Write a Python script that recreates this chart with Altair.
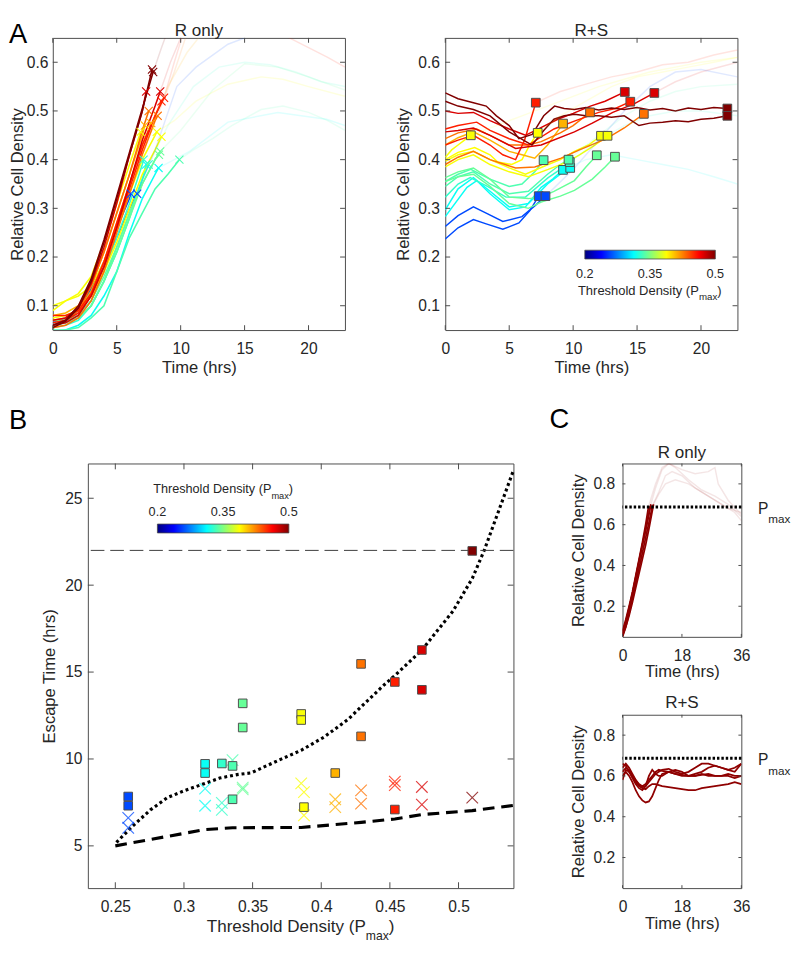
import altair as alt
import pandas as pd

FONT = "Liberation Sans"
TXT = "#262626"
BOX = "#4a4a4a"
CRED = "#8f0000"

# ---------------- colour map (jet, 0.2 .. 0.5) ----------------
JET_DOM = [0.2, 0.2375, 0.3125, 0.3875, 0.4625, 0.5]
JET_COL = ["#000080", "#0000ff", "#00ffff", "#ffff00", "#ff0000", "#800000"]
JET_OFF = [0.0, 0.125, 0.375, 0.625, 0.875, 1.0]
CB_TICKS = [0.2, 0.35, 0.5]
CB_LABELS = ["0.2", "0.35", "0.5"]

# ---------------- Panel A, R only ----------------
RO_PMAX = [0.2594, 0.2594, 0.3154, 0.3154, 0.3276, 0.3276, 0.3354, 0.3428, 0.3428, 0.3854, 0.3854,
           0.3874, 0.4102, 0.4102, 0.429, 0.429, 0.4536, 0.4536, 0.4733, 0.4733, 0.51, 0.51]
RO_T = [
    [0, 1, 2, 3, 4, 5, 6, 6.6],
    [0, 1, 2, 3, 4, 5, 6, 6.1],
    [0, 1, 2, 3, 4, 5, 6, 7, 8, 8.27],
    [0, 1, 2, 3, 4, 5, 6, 7, 7.3],
    [0, 1, 2, 3, 4, 5, 6, 7, 7.1],
    [0, 1, 2, 3, 4, 5, 6, 7, 7.5],
    [0, 1, 2, 3, 4, 5, 6, 7, 8, 9, 9.9],
    [0, 1, 2, 3, 4, 5, 6, 7, 8, 8.4],
    [0, 1, 2, 3, 4, 5, 6, 7, 8, 8.3],
    [0, 1, 2, 3, 4, 5, 6, 6.87],
    [0, 1, 2, 3, 4, 5, 6, 7, 8, 8.13],
    [0, 1, 2, 3, 4, 5, 6, 7, 8, 8.5],
    [0, 1, 2, 3, 4, 5, 6, 7, 7.7],
    [0, 1, 2, 3, 4, 5, 6, 7, 7.2],
    [0, 1, 2, 3, 4, 5, 6, 7, 7.5],
    [0, 1, 2, 3, 4, 5, 6, 7, 8, 8.2],
    [0, 1, 2, 3, 4, 5, 6, 7, 8, 8.7],
    [0, 1, 2, 3, 4, 5, 6, 7, 8, 8.5],
    [0, 1, 2, 3, 4, 5, 6, 7, 7.3],
    [0, 1, 2, 3, 4, 5, 6, 7, 8, 8.4],
    [0, 1, 2, 3, 4, 5, 6, 7, 7.76],
    [0, 1, 2, 3, 4, 5, 6, 7, 7.85],
]
RO_D = [
    [0.06, 0.07, 0.09, 0.13, 0.18, 0.24, 0.30, 0.33],
    [0.065, 0.075, 0.095, 0.135, 0.19, 0.26, 0.32, 0.33],
    [0.045, 0.05, 0.06, 0.08, 0.12, 0.17, 0.25, 0.32, 0.37, 0.383],
    [0.06, 0.065, 0.075, 0.10, 0.15, 0.21, 0.28, 0.36, 0.39],
    [0.065, 0.07, 0.08, 0.11, 0.17, 0.24, 0.31, 0.39, 0.40],
    [0.055, 0.06, 0.07, 0.10, 0.15, 0.22, 0.29, 0.36, 0.39],
    [0.05, 0.05, 0.055, 0.075, 0.10, 0.17, 0.24, 0.29, 0.34, 0.37, 0.40],
    [0.06, 0.065, 0.075, 0.10, 0.15, 0.21, 0.28, 0.35, 0.40, 0.417],
    [0.07, 0.07, 0.08, 0.11, 0.16, 0.22, 0.29, 0.35, 0.40, 0.41],
    [0.09, 0.11, 0.125, 0.16, 0.23, 0.31, 0.39, 0.457],
    [0.10, 0.11, 0.12, 0.14, 0.19, 0.26, 0.33, 0.40, 0.45, 0.457],
    [0.075, 0.08, 0.09, 0.12, 0.17, 0.23, 0.30, 0.37, 0.42, 0.447],
    [0.07, 0.075, 0.09, 0.13, 0.19, 0.27, 0.35, 0.43, 0.475],
    [0.08, 0.085, 0.10, 0.14, 0.21, 0.29, 0.37, 0.45, 0.47],
    [0.06, 0.07, 0.09, 0.14, 0.21, 0.29, 0.37, 0.46, 0.50],
    [0.055, 0.06, 0.075, 0.11, 0.17, 0.25, 0.33, 0.41, 0.48, 0.49],
    [0.065, 0.07, 0.085, 0.12, 0.18, 0.26, 0.34, 0.42, 0.49, 0.527],
    [0.08, 0.08, 0.09, 0.125, 0.19, 0.27, 0.35, 0.43, 0.49, 0.52],
    [0.07, 0.075, 0.095, 0.145, 0.22, 0.31, 0.41, 0.50, 0.54],
    [0.06, 0.065, 0.08, 0.12, 0.18, 0.26, 0.35, 0.44, 0.51, 0.54],
    [0.055, 0.068, 0.095, 0.15, 0.23, 0.32, 0.41, 0.50, 0.585],
    [0.06, 0.07, 0.10, 0.155, 0.235, 0.325, 0.415, 0.505, 0.58],
]
# faded continuation of the R-only curves
ROF_PMAX = [0.3354, 0.3428, 0.3854, 0.3154, 0.2594, 0.4733, 0.51, 0.4536, 0.4536, 0.429, 0.3276, 0.4102]
ROF_T = [
    [9.9, 11, 12.5, 14, 16.3, 18, 20, 21.5, 22.85],
    [8.4, 10, 12.5, 15, 17.6, 20, 22.85],
    [8.13, 9.5, 11.2, 13.7, 16.3, 18, 20, 22.85],
    [8.27, 9.5, 10.7, 13.7, 17.6, 21.4, 22.85],
    [6.6, 8, 9.7, 11.2, 13.7, 16, 18],
    [8.4, 9.2, 10, 11],
    [7.85, 8.5, 9.2],
    [8.7, 9.5, 10.2],
    [17, 18.5, 20, 21.5, 22.85],
    [8.2, 9.5, 10.5],
    [7.5, 9, 11, 13, 15, 17, 19, 21, 22.85],
    [7.7, 9, 10.5, 12],
]
ROF_D = [
    [0.40, 0.42, 0.443, 0.47, 0.503, 0.51, 0.497, 0.48, 0.46],
    [0.417, 0.46, 0.543, 0.597, 0.59, 0.57, 0.543],
    [0.457, 0.48, 0.52, 0.555, 0.57, 0.565, 0.55, 0.53],
    [0.383, 0.40, 0.417, 0.477, 0.497, 0.483, 0.47],
    [0.33, 0.42, 0.55, 0.59, 0.637, 0.66, 0.67],
    [0.54, 0.60, 0.65, 0.70],
    [0.58, 0.63, 0.68],
    [0.527, 0.60, 0.66],
    [0.68, 0.65, 0.63, 0.61, 0.59],
    [0.49, 0.58, 0.66],
    [0.39, 0.47, 0.55, 0.59, 0.60, 0.595, 0.58, 0.56, 0.55],
    [0.475, 0.55, 0.62, 0.67],
]

# ---------------- Panel A, R+S ----------------
RS_PMAX = [0.2594, 0.2594, 0.3154, 0.3154, 0.3276, 0.3354, 0.3354, 0.3428, 0.3428, 0.3854, 0.3874,
           0.3854, 0.3854, 0.4102, 0.429, 0.429, 0.4536, 0.4536, 0.4733, 0.4733, 0.51, 0.51]
RS_T = [
    [0, 1, 2.2, 3.2, 4.5, 5.76, 6.6, 7.31],
    [0, 1, 2.2, 3.2, 4.5, 6.0, 7.0, 7.84],
    [0, 1.7, 2.46, 3.5, 5, 6.27, 7.5, 8.4, 9.21],
    [0, 1, 2.2, 3.5, 5, 6.5, 8.0, 9.0, 9.77],
    [0, 1, 1.95, 3.3, 4.75, 6.27, 8.05, 9.0, 9.74],
    [0, 1, 2.2, 3.5, 5, 6.5, 8.0, 9.0, 9.64],
    [0, 1, 2, 3.5, 5, 6, 7, 7.69],
    [0, 1, 2.2, 3.5, 5, 6.5, 7.5, 8.5, 10.1, 11.0, 11.85],
    [0, 1, 2.2, 3.5, 5, 6.5, 7.5, 9, 10.1, 11.5, 12.5, 13.27],
    [0, 0.5, 1, 1.5, 2.0],
    [0, 1, 2.3, 3.5, 4.1, 5.2, 6.0, 6.6, 7.23],
    [0, 1, 2.2, 3.5, 5, 6.27, 8.05, 9, 10.1, 11.2, 12.18],
    [0, 1, 2.2, 3.5, 5, 6.5, 8.05, 9.5, 10.5, 11.7, 12.69],
    [0, 1, 2.2, 3.5, 5, 6, 7.0, 8.0, 9.21],
    [0, 1, 2.46, 3.5, 5, 6.5, 7.5, 9, 10, 11.32],
    [0, 1, 2.2, 3.5, 5.5, 7, 9.06, 10.5, 12.6, 14, 15.53],
    [0, 1, 2.2, 3.5, 4.5, 5.5, 6.2, 7.08],
    [0, 1, 2.46, 3.5, 5, 6.5, 8.5, 10.2, 12, 13.3, 14.47],
    [0, 1, 2.2, 3.5, 5, 6.27, 8.8, 10, 11.35, 12.5, 14.04],
    [0, 1, 2.2, 3.5, 5.5, 7.5, 10.1, 11.5, 13.1, 14.8, 16.35],
    [0, 1, 2.2, 3.2, 4, 5, 5.76, 6.8, 7.7, 8.55, 9.3, 10.1, 11, 12, 13, 14, 15, 16, 17, 18, 19, 20, 21, 22.06],
    [0, 1, 2.2, 3.5, 5, 6.78, 7.7, 8.5, 9.3, 10.1, 11, 12, 13, 14, 15.15, 16, 17, 18, 19, 20, 21, 22.06],
]
RS_D = [
    [0.237, 0.26, 0.277, 0.268, 0.257, 0.27, 0.295, 0.325],
    [0.263, 0.285, 0.303, 0.29, 0.273, 0.283, 0.305, 0.325],
    [0.283, 0.343, 0.357, 0.33, 0.297, 0.303, 0.343, 0.36, 0.379],
    [0.297, 0.34, 0.363, 0.335, 0.303, 0.31, 0.35, 0.37, 0.383],
    [0.323, 0.35, 0.363, 0.345, 0.323, 0.323, 0.363, 0.38, 0.395],
    [0.345, 0.365, 0.375, 0.35, 0.33, 0.335, 0.37, 0.39, 0.40],
    [0.355, 0.37, 0.38, 0.36, 0.345, 0.35, 0.375, 0.399],
    [0.363, 0.375, 0.383, 0.36, 0.323, 0.32, 0.323, 0.335, 0.357, 0.385, 0.409],
    [0.355, 0.365, 0.37, 0.345, 0.31, 0.30, 0.313, 0.325, 0.337, 0.36, 0.385, 0.406],
    [0.405, 0.42, 0.43, 0.44, 0.45],
    [0.40, 0.415, 0.425, 0.41, 0.395, 0.39, 0.40, 0.43, 0.455],
    [0.397, 0.41, 0.417, 0.40, 0.383, 0.37, 0.39, 0.40, 0.417, 0.43, 0.449],
    [0.385, 0.40, 0.41, 0.39, 0.375, 0.365, 0.38, 0.395, 0.41, 0.43, 0.449],
    [0.43, 0.445, 0.457, 0.44, 0.417, 0.41, 0.403, 0.43, 0.474],
    [0.443, 0.455, 0.463, 0.45, 0.43, 0.43, 0.437, 0.455, 0.47, 0.497],
    [0.39, 0.405, 0.417, 0.40, 0.383, 0.385, 0.403, 0.42, 0.443, 0.465, 0.494],
    [0.43, 0.44, 0.45, 0.43, 0.41, 0.40, 0.44, 0.517],
    [0.463, 0.47, 0.477, 0.46, 0.443, 0.43, 0.463, 0.48, 0.497, 0.505, 0.519],
    [0.50, 0.495, 0.497, 0.48, 0.463, 0.45, 0.483, 0.495, 0.51, 0.52, 0.539],
    [0.457, 0.46, 0.465, 0.45, 0.423, 0.43, 0.457, 0.475, 0.497, 0.515, 0.537],
    [0.537, 0.525, 0.517, 0.51, 0.49, 0.47, 0.443, 0.452, 0.49, 0.51, 0.505, 0.503, 0.507, 0.502,
     0.506, 0.503, 0.507, 0.502, 0.505, 0.50, 0.506, 0.503, 0.507, 0.505],
    [0.52, 0.51, 0.503, 0.49, 0.457, 0.43, 0.46, 0.483, 0.49, 0.493, 0.49, 0.49, 0.487, 0.49,
     0.47, 0.475, 0.477, 0.48, 0.478, 0.483, 0.485, 0.49],
]
RSF_PMAX = [0.4536, 0.3854, 0.2594, 0.3354, 0.3154, 0.4733, 0.3874, 0.3276]
RSF_T = [
    [7.08, 9, 11, 13, 15, 17, 19, 21, 22.85],
    [2.0, 4, 6, 8, 10, 12, 14, 16, 18, 20, 22.85],
    [7.84, 10, 12, 14, 16, 18, 20, 22.85],
    [9.64, 12, 14, 16, 18, 20, 22.85],
    [9.21, 11, 13, 15, 17, 19, 21, 22.85],
    [16.35, 18, 20, 22.85],
    [7.23, 9, 11, 13, 15, 17, 19, 21, 22.85],
    [9.74, 12, 14, 16, 18, 20, 22.85],
]
RSF_D = [
    [0.517, 0.54, 0.555, 0.57, 0.58, 0.595, 0.60, 0.615, 0.625],
    [0.45, 0.47, 0.49, 0.51, 0.53, 0.55, 0.565, 0.58, 0.59, 0.60, 0.61],
    [0.325, 0.38, 0.44, 0.50, 0.55, 0.58, 0.585, 0.57],
    [0.40, 0.45, 0.49, 0.52, 0.54, 0.55, 0.555],
    [0.379, 0.40, 0.41, 0.40, 0.39, 0.38, 0.365, 0.35],
    [0.537, 0.56, 0.58, 0.60],
    [0.455, 0.49, 0.52, 0.55, 0.57, 0.58, 0.59, 0.60, 0.61],
    [0.395, 0.44, 0.47, 0.49, 0.50, 0.50, 0.49],
]

# ---------------- Panel B ----------------
B_RO_P = [0.2594, 0.2594, 0.3154, 0.3154, 0.3276, 0.3276, 0.3354, 0.3428, 0.3428, 0.3854, 0.3874,
          0.3874, 0.4102, 0.4102, 0.429, 0.429, 0.4536, 0.4536, 0.4733, 0.4733, 0.51]
B_RO_T = [6.61, 6.04, 8.29, 7.31, 7.47, 7.07, 9.93, 8.25, 8.35, 8.6, 8.09, 6.76, 7.68, 7.23,
          8.19, 7.43, 8.7, 8.5, 8.39, 7.37, 7.78]
B_RS_P = [0.2594, 0.2594, 0.3154, 0.3154, 0.3276, 0.3354, 0.3354, 0.3428, 0.3428, 0.3854, 0.3854,
          0.3874, 0.4102, 0.429, 0.429, 0.4536, 0.4536, 0.4733, 0.4733, 0.51]
B_RS_T = [7.84, 7.31, 9.72, 9.19, 9.74, 9.60, 7.68, 13.20, 11.81, 12.59, 12.24, 7.23, 9.19,
          15.47, 11.30, 14.43, 7.09, 16.27, 13.98, 21.97]
DOT_P = [0.2508, 0.2627, 0.2754, 0.288, 0.3007, 0.3134, 0.326, 0.3387, 0.3489, 0.3691, 0.3854,
         0.4021, 0.4198, 0.4452, 0.4536, 0.4733, 0.4959, 0.5101, 0.5187, 0.5289, 0.54]
DOT_T = [5.2, 6.14, 7.06, 7.78, 8.19, 8.54, 8.9, 9.1, 9.2, 9.93, 10.5, 11.26, 12.3, 14.22, 14.8,
         16.27, 18.5, 20.4, 22.0, 24.2, 26.6]
DASH_P = [0.25, 0.3154, 0.3354, 0.3854, 0.429, 0.4536, 0.4733, 0.51, 0.54]
DASH_T = [5.0, 5.94, 6.04, 6.06, 6.35, 6.55, 6.8, 7.03, 7.33]
B_HLINE = [22]

# ---------------- Panel C ----------------
C_PMAX = [0.687]
CRO_T = [
    [0, 1, 2, 3, 4, 5, 6, 7, 8, 8.6],
    [0, 1, 2, 3, 4, 5, 6, 7, 8, 9.1],
    [0, 1, 2, 3, 4, 5, 6, 7, 7.9],
    [0, 1, 2, 3, 4, 5, 6, 7, 8, 9.4],
    [0, 1, 2, 3, 4, 5, 6, 7, 8, 8.3],
]
CRO_D = [
    [0.06, 0.12, 0.19, 0.26, 0.34, 0.42, 0.50, 0.57, 0.65, 0.70],
    [0.05, 0.10, 0.165, 0.235, 0.31, 0.385, 0.46, 0.535, 0.61, 0.695],
    [0.08, 0.135, 0.20, 0.27, 0.35, 0.43, 0.51, 0.60, 0.69],
    [0.055, 0.10, 0.155, 0.22, 0.29, 0.36, 0.43, 0.50, 0.58, 0.70],
    [0.07, 0.125, 0.19, 0.26, 0.34, 0.42, 0.50, 0.58, 0.66, 0.69],
]
CROF_T = [
    [8.6, 10, 12, 14, 16, 20, 24, 28, 32, 36],
    [9.1, 11, 13, 15, 18, 22, 26, 30, 34, 36],
    [7.9, 10, 12, 14, 18, 22, 26, 28, 29, 32, 36],
    [9.4, 11, 13, 16, 20, 24, 28, 32, 36],
]
CROF_D = [
    [0.70, 0.78, 0.87, 0.90, 0.88, 0.82, 0.77, 0.74, 0.70, 0.64],
    [0.695, 0.76, 0.84, 0.86, 0.84, 0.78, 0.74, 0.70, 0.66, 0.62],
    [0.69, 0.80, 0.88, 0.90, 0.87, 0.85, 0.86, 0.88, 0.80, 0.72, 0.65],
    [0.70, 0.75, 0.80, 0.82, 0.80, 0.76, 0.72, 0.68, 0.66],
]
CRS_TT = [0, 1, 2, 3, 4, 5, 6, 7, 8, 9, 10, 11, 12, 14, 16, 18, 20, 22, 24, 26, 28, 30, 32, 34, 36]
CRS_D = [
    [0.60, 0.62, 0.60, 0.57, 0.53, 0.50, 0.48, 0.47, 0.475, 0.50, 0.54, 0.58, 0.61, 0.62, 0.61,
     0.60, 0.60, 0.60, 0.605, 0.61, 0.60, 0.60, 0.61, 0.60, 0.60],
    [0.62, 0.64, 0.63, 0.60, 0.57, 0.55, 0.54, 0.535, 0.55, 0.56, 0.56, 0.555, 0.55, 0.545, 0.54,
     0.535, 0.53, 0.53, 0.54, 0.545, 0.55, 0.555, 0.56, 0.57, 0.56],
    [0.66, 0.65, 0.62, 0.59, 0.56, 0.54, 0.53, 0.55, 0.60, 0.63, 0.61, 0.60, 0.60, 0.62, 0.63,
     0.62, 0.60, 0.61, 0.62, 0.64, 0.65, 0.64, 0.63, 0.62, 0.66],
    [0.58, 0.63, 0.62, 0.60, 0.58, 0.56, 0.55, 0.56, 0.58, 0.60, 0.62, 0.63, 0.625, 0.62, 0.61,
     0.605, 0.60, 0.60, 0.61, 0.60, 0.60, 0.60, 0.60, 0.59, 0.60],
    [0.64, 0.66, 0.64, 0.61, 0.58, 0.555, 0.545, 0.55, 0.57, 0.59, 0.61, 0.62, 0.63, 0.635, 0.62,
     0.61, 0.62, 0.64, 0.66, 0.66, 0.65, 0.64, 0.63, 0.64, 0.66],
]

# ---------------- helpers ----------------
XP = "M-1,-1L1,1M-1,1L1,-1"
ONE = pd.DataFrame({"a": [0]})
COLOR = alt.Scale(domain=JET_DOM, range=JET_COL, interpolate="rgb", clamp=True)
W_EM = {"T": 611, "h": 556, "r": 333, "e": 556, "s": 500, "o": 556, "l": 222, "d": 556, " ": 278,
        "D": 722, "n": 556, "i": 222, "t": 278, "y": 500, "(": 333, "P": 667, "m": 833, "a": 556,
        "x": 500, ")": 333}


def tw(s, fs):
    return sum(W_EM[c] for c in s) * fs / 1000.0


def curves_df(pm, ts, ds):
    rows = []
    for i, (p, t, d) in enumerate(zip(pm, ts, ds)):
        for tt, dd in zip(t, d):
            rows.append({"id": i, "pmax": p, "t": tt, "d": dd})
    return pd.DataFrame(rows)


def ends_df(pm, ts, ds):
    return pd.DataFrame({"pmax": pm, "t": [t[-1] for t in ts], "d": [d[-1] for d in ds]})


def ax(vals, title, pad, tpad, fmt="~g"):
    kw = dict(values=vals, format=fmt, ticks=False, tickSize=0, domain=False, grid=False,
              labelFontSize=16, labelPadding=pad, labelFont=FONT, labelColor=TXT,
              labelFlush=False, labelOverlap=False)
    if title is None:
        kw["title"] = None
    else:
        kw.update(title=title, titleFontSize=17, titleFont=FONT, titleColor=TXT,
                  titleFontWeight="normal", titlePadding=tpad)
    return alt.Axis(**kw)


def txt(s, x, y, fs, align="left", color=TXT, top=False):
    # y is the alphabetic baseline; with top=True the mark uses a "top" baseline so that
    # its bounding box starts right at the glyph top
    if top:
        return alt.Chart(ONE).mark_text(text=s, fontSize=fs, font=FONT, align=align,
                                        baseline="top", color=color).encode(
            x=alt.value(x), y=alt.value(y - 0.79 * fs))
    return alt.Chart(ONE).mark_text(text=s, fontSize=fs, font=FONT, align=align,
                                    baseline="alphabetic", color=color).encode(
        x=alt.value(x), y=alt.value(y))


def sub_text(main, sub, tail, cx, y, fs, fss, dy):
    w = tw(main, fs) + tw(sub, fss) + tw(tail, fs)
    x0 = cx - w / 2.0
    return [txt(main, x0, y, fs), txt(sub, x0 + tw(main, fs), y + dy, fss),
            txt(tail, x0 + tw(main, fs) + tw(sub, fss), y, fs)]


def inner_ticks(X, Y, xv, yv, W, H, L):
    dx = pd.DataFrame({"v": xv})
    dy = pd.DataFrame({"v": yv})
    st = dict(color=BOX, strokeWidth=1)
    return [
        alt.Chart(dx).mark_rule(**st).encode(x=X("v"), y=alt.value(H), y2=alt.value(H - L)),
        alt.Chart(dx).mark_rule(**st).encode(x=X("v"), y=alt.value(0), y2=alt.value(L)),
        alt.Chart(dy).mark_rule(**st).encode(y=Y("v"), x=alt.value(0), x2=alt.value(L)),
        alt.Chart(dy).mark_rule(**st).encode(y=Y("v"), x=alt.value(W), x2=alt.value(W - L)),
    ]


def colorbar(x1, x2, y1, y2, label_y, fs):
    grad = alt.LinearGradient(gradient="linear",
                              stops=[alt.GradientStop(color=c, offset=o) for c, o in zip(JET_COL, JET_OFF)],
                              x1=0, x2=1, y1=0, y2=0)
    layers = [alt.Chart(ONE).mark_rect(fill=grad, stroke=BOX, strokeWidth=0.8).encode(
        x=alt.value(x1), x2=alt.value(x2), y=alt.value(y1), y2=alt.value(y2))]
    for v, lab in zip(CB_TICKS, CB_LABELS):
        layers.append(txt(lab, x1 + (v - 0.2) / 0.3 * (x2 - x1), label_y, fs, align="center"))
    return layers


def enc_maker(scale, axis, ch):
    # same explicit axis on every layer of a panel, so layers merge cleanly
    def f(field):
        if ch == "x":
            return alt.X(field + ":Q", scale=scale, axis=axis)
        return alt.Y(field + ":Q", scale=scale, axis=axis)
    return f


colA = alt.Color("pmax:Q", scale=COLOR, legend=None)

# ---------------- Panel A left ----------------
WA, HA = 300, 300
xsA = alt.Scale(domain=[0, 22.85], nice=False, zero=False)
ysA = alt.Scale(domain=[0.05, 0.65], nice=False, zero=False)
XT_A = [0, 5, 10, 15, 20]
YT_A = [0.1, 0.2, 0.3, 0.4, 0.5, 0.6]
X1 = enc_maker(xsA, ax(XT_A, "Time (hrs)", 11, 4, "d"), "x")
Y1 = enc_maker(ysA, ax(YT_A, "Relative Cell Density", 5, 0), "y")

a1 = alt.layer(
    alt.Chart(curves_df(RO_PMAX, RO_T, RO_D)).mark_line(clip=True, strokeWidth=1.6).encode(
        x=X1("t"), y=Y1("d"), color=colA, detail="id:N"),
    alt.Chart(curves_df(ROF_PMAX, ROF_T, ROF_D)).mark_line(clip=True, strokeWidth=1.5, opacity=0.13).encode(
        x=X1("t"), y=Y1("d"), color=colA, detail="id:N"),
    alt.Chart(ends_df(RO_PMAX, RO_T, RO_D)).mark_point(shape=XP, size=70, filled=False, strokeWidth=1.1, opacity=1).encode(
        x=X1("t"), y=Y1("d"), color=colA),
    *inner_ticks(X1, Y1, XT_A, YT_A, WA, HA, 5),
    txt("R only", WA / 2, -2.5, 17.5, align="center", top=True),
    txt("A", -45, 5.5, 28, color="black", top=True),
).properties(width=WA, height=HA)

# ---------------- Panel A right ----------------
X2 = enc_maker(xsA, ax(XT_A, "Time (hrs)", 11, 4, "d"), "x")
Y2 = enc_maker(ysA, ax(YT_A, "Relative Cell Density", 6, 5), "y")
a2 = alt.layer(
    alt.Chart(curves_df(RS_PMAX, RS_T, RS_D)).mark_line(clip=True, strokeWidth=1.5).encode(
        x=X2("t"), y=Y2("d"), color=colA, detail="id:N"),
    alt.Chart(curves_df(RSF_PMAX, RSF_T, RSF_D)).mark_line(clip=True, strokeWidth=1.5, opacity=0.12).encode(
        x=X2("t"), y=Y2("d"), color=colA, detail="id:N"),
    alt.Chart(ends_df(RS_PMAX, RS_T, RS_D)).mark_square(size=80, stroke="#4d4d4d", strokeWidth=1, opacity=1).encode(
        x=X2("t"), y=Y2("d"), color=colA),
    *inner_ticks(X2, Y2, XT_A, YT_A, WA, HA, 5),
    *colorbar(143.3, 277.3, 218, 227, 247, 13),
    *sub_text("Threshold Density (P", "max", ")", 210, 263.5, 13.3, 10, 6),
    txt("R+S", WA / 2, -2.5, 17.5, align="center", top=True),
).properties(width=WA, height=HA)

# ---------------- Panel B ----------------
WB, HB = 437, 436
xsB = alt.Scale(domain=[0.23, 0.54], nice=False, zero=False)
ysB = alt.Scale(domain=[2.57, 27], nice=False, zero=False)
XT_B = [0.25, 0.3, 0.35, 0.4, 0.45, 0.5]
YT_B = [5, 10, 15, 20, 25]
XB = enc_maker(xsB, ax(XT_B, None, 11, 0), "x")
YB = enc_maker(ysB, ax(YT_B, "Escape Time (hrs)", 6, 6, "d"), "y")
b = alt.layer(
    alt.Chart(pd.DataFrame({"p": DOT_P, "tt": DOT_T})).mark_line(color="black", strokeWidth=3.2, strokeDash=[3, 3]).encode(
        x=XB("p"), y=YB("tt")),
    alt.Chart(pd.DataFrame({"y": B_HLINE})).mark_rule(color="#3a3a3a", strokeWidth=1, strokeDash=[14, 6]).encode(
        y=YB("y")),
    alt.Chart(pd.DataFrame({"p": DASH_P, "tt": DASH_T})).mark_line(color="black", strokeWidth=3.2, strokeDash=[12, 7]).encode(
        x=XB("p"), y=YB("tt")),
    alt.Chart(pd.DataFrame({"pmax": B_RO_P, "tt": B_RO_T})).mark_point(shape=XP, size=140, filled=False, strokeWidth=1.2, opacity=0.75).encode(
        x=XB("pmax"), y=YB("tt"), color=colA),
    alt.Chart(pd.DataFrame({"pmax": B_RS_P, "tt": B_RS_T})).mark_square(size=78, stroke="#4d4d4d", strokeWidth=1, opacity=1).encode(
        x=XB("pmax"), y=YB("tt"), color=colA),
    *inner_ticks(XB, YB, XT_B, YT_B, WB, HB, 6),
    *colorbar(71.4, 206.4, 62.2, 71.3, 53.6, 13),
    *sub_text("Threshold Density (P", "max", ")", 138.9, 30, 13, 9.5, 6),
    *sub_text("Threshold Density (P", "max", ")", WB / 2, 480.7, 17.5, 12.5, 8.7),
).properties(width=WB, height=HB)

spacer = alt.Chart(ONE).mark_text(text="B", fontSize=28, font=FONT, align="left", baseline="top",
                                  color="black").encode(
    x=alt.value(-45), y=alt.value(-35.8 - 0.79 * 28)).properties(
    width=36, height=10, view=alt.ViewBackground(strokeOpacity=0))

# ---------------- Panel C ----------------
WC, HC = 122, 178
xsC = alt.Scale(domain=[0, 36], nice=False, zero=False)
ysC = alt.Scale(domain=[0.05, 0.9], nice=False, zero=False)
XT_C = [0, 18, 36]
YT_C = [0.2, 0.4, 0.6, 0.8]


def pmax_rule(Y):
    return alt.Chart(pd.DataFrame({"y": C_PMAX})).mark_rule(color="black", strokeWidth=3, strokeDash=[2.5, 2]).encode(
        y=Y("y"))


def pmax_label():
    return [txt("P", WC + 17, 52, 16), txt("max", WC + 17 + tw("P", 16), 61.5, 12)]


dCRS = pd.DataFrame([{"id": i, "t": t, "d": v} for i, row in enumerate(CRS_D) for t, v in zip(CRS_TT, row)])
dCRO = pd.DataFrame([{"id": i, "t": t, "d": v} for i, (ts, ds) in enumerate(zip(CRO_T, CRO_D)) for t, v in zip(ts, ds)])
dCROF = pd.DataFrame([{"id": i, "t": t, "d": v} for i, (ts, ds) in enumerate(zip(CROF_T, CROF_D)) for t, v in zip(ts, ds)])

XC1 = enc_maker(xsC, ax(XT_C, "Time (hrs)", 11, 1, "d"), "x")
YC1 = enc_maker(ysC, ax(YT_C, "Relative Cell Density", 8, 6), "y")
c1 = alt.layer(
    alt.Chart(dCRO).mark_line(clip=True, strokeWidth=1.8, color=CRED).encode(
        x=XC1("t"), y=YC1("d"), detail="id:N"),
    alt.Chart(dCROF).mark_line(clip=True, strokeWidth=1.5, opacity=0.1, color=CRED).encode(
        x=XC1("t"), y=YC1("d"), detail="id:N"),
    pmax_rule(YC1),
    *inner_ticks(XC1, YC1, XT_C, YT_C, WC, HC, 3),
    *pmax_label(),
    txt("R only", WC / 2, -5.4, 17.5, align="center", top=True),
    txt("C", -75, -36.5, 28, color="black", top=True),
).properties(width=WC, height=HC)

XC2 = enc_maker(xsC, ax(XT_C, "Time (hrs)", 11, 1, "d"), "x")
YC2 = enc_maker(ysC, ax(YT_C, "Relative Cell Density", 8, 6), "y")
c2 = alt.layer(
    alt.Chart(dCRS).mark_line(clip=True, strokeWidth=1.8, color=CRED).encode(
        x=XC2("t"), y=YC2("d"), detail="id:N"),
    pmax_rule(YC2),
    *inner_ticks(XC2, YC2, XT_C, YT_C, WC, HC, 3),
    *pmax_label(),
    txt("R+S", WC / 2, -7, 17.5, align="center", top=True),
).properties(width=WC, height=HC)

# ---------------- layout ----------------
top = alt.hconcat(a1, a2, spacing=50)
inner = alt.hconcat(spacer, b, spacing=0, bounds="flush")
cstack = alt.vconcat(c1, c2, spacing=13)
bottom = alt.hconcat(inner, cstack, spacing=29)

chart = alt.vconcat(top, bottom, spacing=29).properties(padding=0).configure(font=FONT).configure_view(
    stroke=BOX, strokeWidth=1)

chart.save("out.html", embed_options={"renderer": "svg", "actions": False})
